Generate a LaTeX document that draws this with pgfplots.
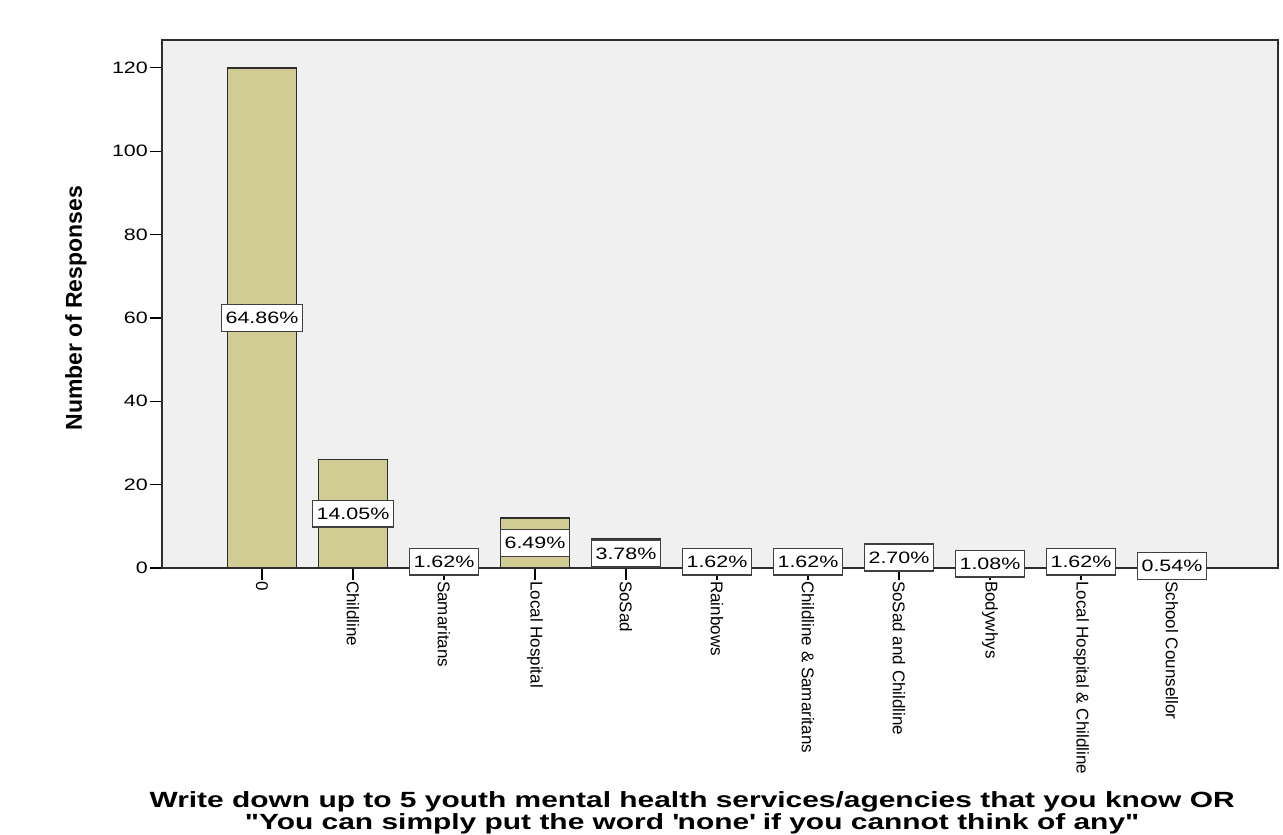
\documentclass[border=0pt]{standalone}
\usepackage{fontspec}
\usepackage{pgfplots}
\pgfplotsset{compat=1.18}
\setmainfont{Liberation Sans}
\newfontfamily\widesans{Liberation Sans}[FakeStretch=1.3]
\newfontfamily\titlesans{Liberation Sans}[FakeStretch=1.36]
\newfontfamily\plainsans{Liberation Sans}

\definecolor{barfill}{RGB}{209,204,148}
\definecolor{panel}{RGB}{240,240,240}
\definecolor{edge}{RGB}{45,45,45}

\begin{document}
\begin{tikzpicture}
\begin{axis}[
  scale only axis,
  width=1116pt, height=528pt,
  xmin=-1.099, xmax=11.165,
  ymin=0, ymax=126.7,
  axis background/.style={fill=panel},
  axis line style={edge, line width=1.3pt},
  axis on top,
  tick pos=left,
  tick align=outside,
  major tick length=12pt,
  tick style={black, line width=1.1pt},
  xtick={0,...,10},
  xticklabels={0, Childline, Samaritans, Local Hospital, SoSad, Rainbows,
    Childline \& Samaritans, SoSad and Childline, Bodywhys,
    Local Hospital \& Childline, School Counsellor},
  xticklabel style={rotate=-90, anchor=west, inner sep=1pt,
    font=\plainsans\fontsize{17}{19}\selectfont},
  ytick={0,20,...,120},
  yticklabel style={inner sep=2pt, font=\widesans\fontsize{16.5}{18}\selectfont},
  /pgf/number format/assume math mode=true,
  ylabel={Number of Responses},
  ylabel style={at={(rel axis cs:-0.0771,0.492)}, anchor=center,
    font=\plainsans\bfseries\fontsize{23}{25}\selectfont},
  xlabel={Write down up to 5 youth mental health services/agencies that you know OR\\
    "You can simply put the word \textquotesingle none\textquotesingle\ if you cannot think of any"},
  xlabel style={at={(rel axis cs:0.475,0)}, anchor=north, yshift=-223pt,
    align=center, inner sep=0pt,
    font=\titlesans\bfseries\fontsize{22}{22}\selectfont},
]
\addplot[ybar, bar width=69pt, fill=barfill, draw=edge, line width=1.4pt]
  coordinates {(0,120)(1,26)(2,3)(3,12)(4,7)(5,3)(6,3)(7,5)(8,2)(9,3)(10,1)};
\addplot[draw=none, mark=none,
  nodes near coords,
  point meta=explicit symbolic,
  nodes near coords align={anchor=center},
  every node near coord/.append style={fill=white, draw=black!75,
    line width=1.5pt, inner xsep=4pt, inner ysep=7.5pt,
    font=\widesans\fontsize{16.5}{18}\selectfont},
] coordinates {
  (0,60)[64.86\%] (1,13)[14.05\%] (2,1.5)[1.62\%] (3,6)[6.49\%]
  (4,3.5)[3.78\%] (5,1.5)[1.62\%] (6,1.5)[1.62\%] (7,2.5)[2.70\%]
  (8,1)[1.08\%] (9,1.5)[1.62\%] (10,0.5)[0.54\%]
};
\end{axis}
\pgfresetboundingbox
\path ([xshift=-162pt,yshift=-266pt]current axis.south west)
  rectangle ([xshift=5pt,yshift=40pt]current axis.north east);
\end{tikzpicture}
\end{document}
